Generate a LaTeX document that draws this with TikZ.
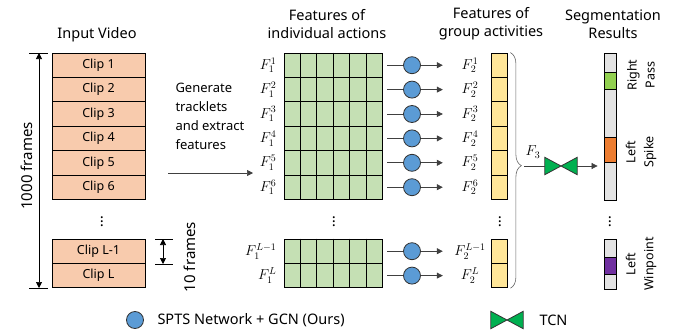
\documentclass[tikz,border=0pt]{standalone}
\usepackage{fontspec}
\setmainfont{Noto Sans}
\usetikzlibrary{arrows.meta, decorations.pathreplacing, calc}

\definecolor{clipfill}{HTML}{F8CBAD}
\definecolor{gridgreen}{HTML}{C5E0B4}
\definecolor{grpyellow}{HTML}{FFE699}
\definecolor{gcnblue}{HTML}{5B9BD5}
\definecolor{tcngreen}{HTML}{00B050}
\definecolor{seggray}{HTML}{E3E3E3}
\definecolor{seggreen}{HTML}{92D050}
\definecolor{segorange}{HTML}{ED7D31}
\definecolor{segpurple}{HTML}{7030A0}
\definecolor{linegray}{HTML}{404040}

\begin{document}
\begin{tikzpicture}[x=1pt, y=-1pt,
  font=\fontsize{12.5}{15}\selectfont,
  box/.style={draw=black, line width=0.8pt, inner sep=0pt},
  clipbox/.style={box, fill=clipfill, minimum width=93pt, minimum height=24.4pt},
  gridrow/.style={box, fill=gridgreen, minimum width=98pt, minimum height=24.4pt},
  grpbox/.style={box, fill=grpyellow, minimum width=16pt, minimum height=24.4pt},
  gcn/.style={circle, draw=black!80, line width=0.8pt, fill=gcnblue, minimum size=17pt, inner sep=0pt},
  tcnshape/.style={minimum width=32pt, minimum height=17pt, inner sep=0pt},
  bowtie/.style={draw=black!80, line width=0.8pt, fill=tcngreen, line join=miter},
  conn/.style={draw=linegray, line width=0.7pt},
  arrow/.style={conn, -{Triangle[length=6pt, width=6pt]}},
  dimarrow/.style={draw=black, line width=0.7pt, {Triangle[length=6pt, width=6pt]}-{Triangle[length=6pt, width=6pt]}},
  flabel/.style={inner sep=0pt, font=\fontsize{14.5}{16}\selectfont},
  title/.style={align=center, font=\fontsize{14.5}{18}\selectfont},
  seglabel/.style={rotate=90, align=center, font=\fontsize{12.5}{18}\selectfont},
  dimlabel/.style={rotate=90, font=\fontsize{15}{16}\selectfont},
  dots/.style={font=\fontsize{15}{16}\selectfont},
  legend/.style={anchor=west, font=\fontsize{14.5}{16}\selectfont},
]
\useasboundingbox (0,0) rectangle (688,332);

% column titles
\node[title] at (97,35) {Input Video};
\node[title] at (327,24) {Features of\\individual actions};
\node[title] at (491,24) {Features of\\group activities};
\node[title] at (613,24) {Segmentation\\Results};

% one row per clip: clip, feature grid, GCN, group feature
\foreach \i/\y/\s in {1/65.2/1, 2/89.6/2, 3/114/3, 4/138.4/4, 5/162.8/5, 6/187.2/6, 7/251.2/{L-1}, 8/275.6/L}{
  \node[clipbox] (clip\i) at (98.5,\y) {Clip \s};
  \node[gridrow] (row\i) at (333,\y) {};
  \foreach \k in {1,...,5}
    \draw[line width=0.8pt] ($(row\i.north west)!\k/6!(row\i.north east)$) -- ($(row\i.south west)!\k/6!(row\i.south east)$);
  \node[flabel, anchor=east] (fa\i) at ($(row\i.west)+(-7,0)$) {$F_1^{\s}$};
  \node[gcn] (gcn\i) at (412,\y) {};
  \node[flabel, minimum width=32pt] (fb\i) at (470,\y) {$F_2^{\s}$};
  \node[grpbox] (gb\i) at (499,\y) {};
  \draw[conn, shorten <=5pt] (row\i.east) -- (gcn\i.west);
  \draw[arrow, shorten >=11pt] (gcn\i.east) -- (fb\i.west);
}

% vertical ellipses
\node[dots] at (102,219) {$\vdots$};
\node[dots] at (334,219) {$\vdots$};
\node[dots] at (500,219) {$\vdots$};
\node[dots] at (610,219) {$\vdots$};

% video length
\coordinate (vtop) at (39,53);
\coordinate (vbot) at (39,288);
\draw[line width=0.7pt] (29,53) -- (48,53);
\draw[line width=0.7pt] (29,288) -- (48,288);
\draw[dimarrow] (vtop) -- (vbot);
\node[dimlabel] at (27,166) {1000 frames};

% clip length
\coordinate (ctop) at (163,239);
\coordinate (cbot) at (163,264);
\draw[line width=0.7pt] (155,239) -- (173,239);
\draw[line width=0.7pt] (155,264) -- (173,264);
\draw[dimarrow] (ctop) -- (cbot);
\node[dimlabel] at (190,257) {10 frames};

% tracklet generation
\node[align=left, anchor=north west, font=\fontsize{13}{19}\selectfont] (gen) at (172,80) {Generate\\tracklets\\and extract\\features};
\coordinate (gstart) at (168,173);
\coordinate (gend) at (253,173);
\draw[arrow] (gstart) -- (gend);

% brace gathering group features
\draw[draw=black!60, line width=0.6pt, decorate, decoration={brace, amplitude=11pt, aspect=0.48}]
  ($(gb1.north east)+(3,0)$) -- ($(gb8.south east)+(3,0)$);
\coordinate (btip) at (524,166);
\node[flabel] (f3) at (533,152) {$F_3$};

% TCN
\node[tcnshape] (tcn) at (561,166) {};
\draw[bowtie] (tcn.north west) -- (tcn.center) -- (tcn.south west) -- cycle
              (tcn.north east) -- (tcn.center) -- (tcn.south east) -- cycle;

% segmentation bars
\node[box, fill=seggray, minimum width=12pt, minimum height=147pt] (seg1) at (610,126.5) {};
\draw[box, fill=seggreen] (604,72) rectangle (616,89);
\draw[box, fill=segorange] (604,137) rectangle (616,162);
\node[box, fill=seggray, minimum width=12pt, minimum height=50pt] (seg2) at (610,264) {};
\draw[box, fill=segpurple] (604,257) rectangle (616,274);

\draw[conn] (btip) -- (tcn.west);
\draw[arrow, shorten >=6pt] (tcn.east) -- (tcn.east -| seg1.west);

\node[seglabel] at (641,75) {Right\\Pass};
\node[seglabel] at (641,152) {Left\\Spike};
\node[seglabel] at (641,264) {Left\\Winpoint};

% legend
\node[gcn] (lgcn) at (135,320) {};
\node[legend] at (154,320) {SPTS Network + GCN (Ours)};
\node[tcnshape] (ltcn) at (507,320) {};
\draw[bowtie] (ltcn.north west) -- (ltcn.center) -- (ltcn.south west) -- cycle
              (ltcn.north east) -- (ltcn.center) -- (ltcn.south east) -- cycle;
\node[legend] at (536,320) {TCN};
\end{tikzpicture}
\end{document}
